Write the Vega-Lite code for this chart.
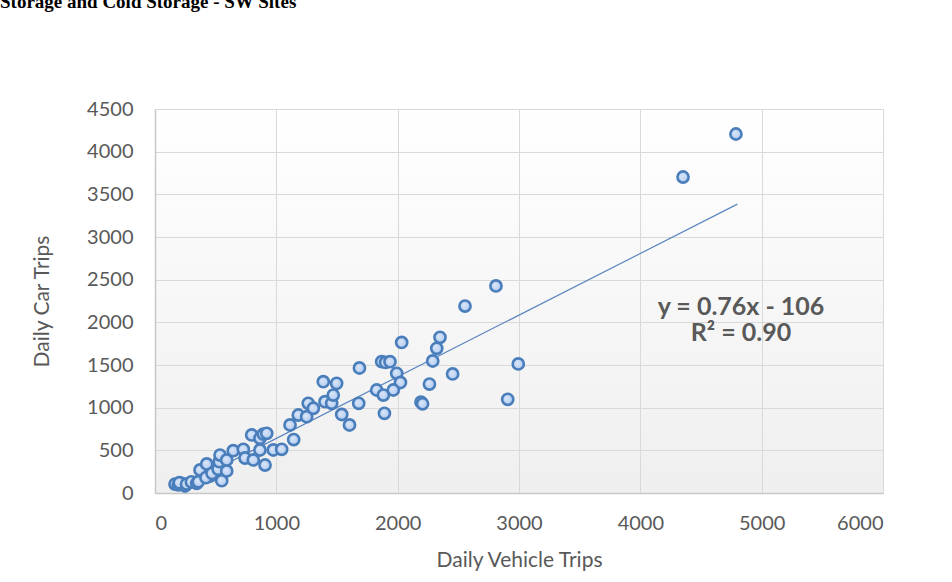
{
  "$schema": "https://vega.github.io/schema/vega-lite/v6.json",
  "width": 728,
  "height": 384,
  "autosize": {"type": "none"},
  "padding": {"left": 155, "top": 109, "right": 69, "bottom": 89},
  "background": "white",
  "title": {
    "text": "Storage and Cold Storage - SW Sites",
    "anchor": "start",
    "frame": "group",
    "orient": "top",
    "dx": -155,
    "offset": 72,
    "baseline": "alphabetic",
    "font": "Liberation Serif",
    "fontSize": 19,
    "fontWeight": "bold",
    "color": "#000000"
  },
  "config": {
    "view": {
      "stroke": null,
      "fill": {"gradient": "linear", "x1": 0, "y1": 0, "x2": 0, "y2": 1,
        "stops": [{"offset": 0, "color": "#ffffff"}, {"offset": 1, "color": "#efefef"}]}
    },
    "axis": {
      "labelFont": "Lato",
      "labelFontSize": 20,
      "labelColor": "#595959",
      "titleFont": "Lato",
      "titleFontSize": 21,
      "titleFontWeight": "normal",
      "titleColor": "#595959",
      "gridColor": "#d9d9d9",
      "gridWidth": 1,
      "domainColor": "#c8c8c8",
      "domainWidth": 1.5,
      "ticks": false,
      "format": "d"
    }
  },
  "datasets": {
    "pts": [
      {"vt": 165, "ct": 105}, {"vt": 192, "ct": 94}, {"vt": 220, "ct": 114}, {"vt": 247, "ct": 82},
      {"vt": 200, "ct": 120}, {"vt": 260, "ct": 105}, {"vt": 300, "ct": 130},
      {"vt": 344, "ct": 114}, {"vt": 357, "ct": 132}, {"vt": 371, "ct": 270}, {"vt": 426, "ct": 340},
      {"vt": 453, "ct": 199}, {"vt": 420, "ct": 180}, {"vt": 470, "ct": 230}, {"vt": 520, "ct": 280},
      {"vt": 530, "ct": 367}, {"vt": 536, "ct": 445}, {"vt": 550, "ct": 144}, {"vt": 591, "ct": 258},
      {"vt": 591, "ct": 387}, {"vt": 645, "ct": 496}, {"vt": 728, "ct": 512}, {"vt": 742, "ct": 410},
      {"vt": 797, "ct": 680}, {"vt": 810, "ct": 387}, {"vt": 865, "ct": 641}, {"vt": 865, "ct": 504},
      {"vt": 893, "ct": 690}, {"vt": 907, "ct": 328}, {"vt": 921, "ct": 700}, {"vt": 975, "ct": 504},
      {"vt": 1044, "ct": 512}, {"vt": 1113, "ct": 797}, {"vt": 1143, "ct": 626}, {"vt": 1181, "ct": 914},
      {"vt": 1250, "ct": 894}, {"vt": 1263, "ct": 1051}, {"vt": 1305, "ct": 993}, {"vt": 1387, "ct": 1304},
      {"vt": 1401, "ct": 1070}, {"vt": 1456, "ct": 1051}, {"vt": 1469, "ct": 1148}, {"vt": 1497, "ct": 1285},
      {"vt": 1539, "ct": 920}, {"vt": 1603, "ct": 797}, {"vt": 1685, "ct": 1465}, {"vt": 1679, "ct": 1051},
      {"vt": 1827, "ct": 1207}, {"vt": 1882, "ct": 1148}, {"vt": 1868, "ct": 1539}, {"vt": 1900, "ct": 1530},
      {"vt": 1937, "ct": 1539}, {"vt": 1992, "ct": 1403}, {"vt": 2023, "ct": 1295}, {"vt": 1964, "ct": 1207},
      {"vt": 1891, "ct": 934}, {"vt": 2033, "ct": 1764}, {"vt": 2192, "ct": 1066}, {"vt": 2205, "ct": 1045},
      {"vt": 2262, "ct": 1277}, {"vt": 2289, "ct": 1547}, {"vt": 2322, "ct": 1696}, {"vt": 2349, "ct": 1825},
      {"vt": 2453, "ct": 1395}, {"vt": 2555, "ct": 2191}, {"vt": 2810, "ct": 2426}, {"vt": 2907, "ct": 1098},
      {"vt": 2994, "ct": 1512}, {"vt": 4352, "ct": 3703}, {"vt": 4788, "ct": 4207}
    ],
    "trend": [
      {"vt": 170, "ct": 40},
      {"vt": 4800, "ct": 3385}
    ]
  },
  "layer": [
    {
      "data": {"name": "trend"},
      "mark": {"type": "line", "color": "#5b86c0", "strokeWidth": 1.2},
      "encoding": {
        "x": {"field": "vt", "type": "quantitative", "scale": {"domain": [0, 6000], "nice": false},
          "axis": {"title": "Daily Vehicle Trips", "values": [0, 1000, 2000, 3000, 4000, 5000, 6000], "labelPadding": 20, "titlePadding": 16}},
        "y": {"field": "ct", "type": "quantitative", "scale": {"domain": [0, 4500], "nice": false},
          "axis": {"title": "Daily Car Trips", "values": [0, 500, 1000, 1500, 2000, 2500, 3000, 3500, 4000, 4500], "labelPadding": 22, "titlePadding": 34}}
      }
    },
    {
      "data": {"name": "pts"},
      "mark": {"type": "point", "filled": true, "size": 125, "strokeWidth": 2.6,
        "stroke": "#4a7ebb", "opacity": 1,
        "fill": {"gradient": "radial", "x1": 0.4, "y1": 0.4, "x2": 0.5, "y2": 0.5, "r1": 0, "r2": 0.6,
          "stops": [{"offset": 0, "color": "#dbe7f8"}, {"offset": 1, "color": "#a9c5ef"}]}},
      "encoding": {
        "x": {"field": "vt", "type": "quantitative"},
        "y": {"field": "ct", "type": "quantitative"}
      }
    },
    {
      "data": {"values": [{"line": "y = 0.76x - 106"}]},
      "mark": {"type": "text", "font": "Lato", "fontWeight": "bold", "fontSize": 25, "color": "#595959", "align": "center", "baseline": "alphabetic"},
      "encoding": {
        "x": {"datum": 4830, "type": "quantitative"},
        "y": {"datum": 2086, "type": "quantitative"},
        "text": {"field": "line"}
      }
    },
    {
      "data": {"values": [{"line": "R² = 0.90"}]},
      "mark": {"type": "text", "font": "Lato", "fontWeight": "bold", "fontSize": 25, "color": "#595959", "align": "center", "baseline": "alphabetic"},
      "encoding": {
        "x": {"datum": 4830, "type": "quantitative"},
        "y": {"datum": 1781, "type": "quantitative"},
        "text": {"field": "line"}
      }
    }
  ]
}
